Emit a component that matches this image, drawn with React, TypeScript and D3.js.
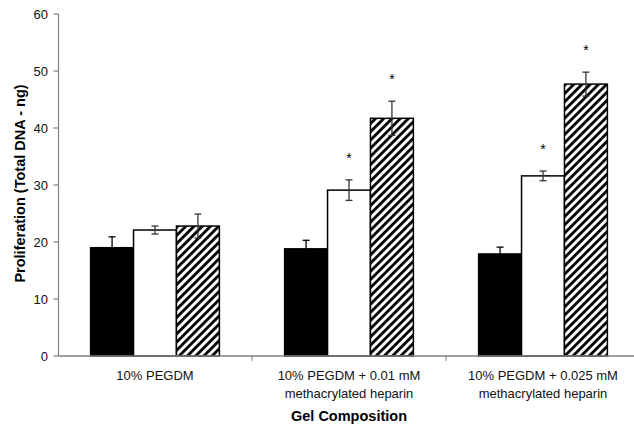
import React from "react";
import * as d3 from "d3";

const categories = [
  ["10% PEGDM"],
  ["10% PEGDM + 0.01 mM", "methacrylated heparin"],
  ["10% PEGDM + 0.025 mM", "methacrylated heparin"],
];
const seriesNames = ["a", "b", "c"];
const values = [
  [19.0, 22.1, 22.8],
  [18.8, 29.1, 41.7],
  [17.9, 31.6, 47.7],
];
const errors = [
  [1.9, 0.7, 2.1],
  [1.5, 1.8, 3.0],
  [1.2, 0.85, 2.1],
];
const significant = [
  [false, false, false],
  [false, true, true],
  [false, true, true],
];
const yTicks = [0, 10, 20, 30, 40, 50, 60];
const yTitle = "Proliferation (Total DNA - ng)";
const xTitle = "Gel Composition";

const W = 634;
const H = 429;
const FONT = "'Liberation Sans', Arial, sans-serif";

export default function App() {
  const catKeys = categories.map((_, i) => String(i));
  const y = d3.scaleLinear().domain([0, 60]).range([356, 14]);
  const x0 = d3.scaleBand().domain(catKeys).range([58, 640]).paddingInner(0).paddingOuter(0);
  const x1 = d3
    .scaleBand()
    .domain(seriesNames)
    .range([0, x0.bandwidth()])
    .paddingInner(0)
    .paddingOuter(0.76);
  const axisColor = "#808080";
  const left = 58.5;
  const base = y(0);

  const fills = ["#000", "#fff", "url(#hatch)"];
  const errColors = ["#000", "#333", "#333"];

  return (
    <svg
      width={W}
      height={H}
      style={{ position: "absolute", left: 0, top: 0, background: "#fff" }}
      fontFamily={FONT}
    >
      <defs>
        <pattern
          id="hatch"
          patternUnits="userSpaceOnUse"
          width={5.8}
          height={5.8}
          patternTransform="rotate(45)"
        >
          <rect x={0} y={0} width={5.8} height={5.8} fill="#fff" />
          <rect x={0} y={0} width={2.8} height={5.8} fill="#000" />
        </pattern>
      </defs>
      <rect x={0} y={0} width={W} height={H} fill="#fff" />

      {/* bars */}
      {values.map((row, ci) =>
        row.map((v, si) => {
          const bx = (x0(String(ci)) ?? 0) + (x1(seriesNames[si]) ?? 0);
          const bw = x1.bandwidth();
          return (
            <rect
              key={`b${ci}-${si}`}
              x={bx}
              y={y(v)}
              width={bw}
              height={base - y(v)}
              fill={fills[si]}
              stroke="#000"
              strokeWidth={1.5}
            />
          );
        })
      )}

      {/* error bars */}
      {values.map((row, ci) =>
        row.map((v, si) => {
          const cx = (x0(String(ci)) ?? 0) + (x1(seriesNames[si]) ?? 0) + x1.bandwidth() / 2;
          const e = errors[ci][si];
          const t = y(v + e);
          const b = y(v - e);
          return (
            <g key={`e${ci}-${si}`} stroke={errColors[si]} strokeWidth={1.3}>
              <line x1={cx} x2={cx} y1={t} y2={b} />
              <line x1={cx - 3.5} x2={cx + 3.5} y1={t} y2={t} />
              <line x1={cx - 3.5} x2={cx + 3.5} y1={b} y2={b} />
            </g>
          );
        })
      )}

      {/* significance stars */}
      {values.map((row, ci) =>
        row.map((v, si) => {
          if (!significant[ci][si]) return null;
          const cx = (x0(String(ci)) ?? 0) + (x1(seriesNames[si]) ?? 0) + x1.bandwidth() / 2;
          const t = y(v + errors[ci][si]);
          return (
            <text key={`s${ci}-${si}`} x={cx} y={t - 17} textAnchor="middle" fontSize={14} fill="#000">
              *
            </text>
          );
        })
      )}

      {/* y axis */}
      <line x1={left} x2={left} y1={y(60)} y2={base} stroke={axisColor} strokeWidth={1.2} />
      {yTicks.map((t) => (
        <g key={`yt${t}`}>
          <line x1={left - 5} x2={left} y1={y(t)} y2={y(t)} stroke={axisColor} strokeWidth={1.2} />
          <text x={48} y={y(t) + 4.5} textAnchor="end" fontSize={13} fill="#111">
            {t}
          </text>
        </g>
      ))}

      {/* x axis */}
      <line x1={left} x2={640} y1={base} y2={base} stroke={axisColor} strokeWidth={1.5} />
      {catKeys.slice(1).map((k) => (
        <line
          key={`xt${k}`}
          x1={x0(k) ?? 0}
          x2={x0(k) ?? 0}
          y1={base}
          y2={base + 5}
          stroke={axisColor}
          strokeWidth={1}
        />
      ))}

      {/* category labels */}
      {categories.map((lines, ci) => {
        const cx = (x0(String(ci)) ?? 0) + x0.bandwidth() / 2;
        return (
          <text key={`c${ci}`} textAnchor="middle" fontSize={13} fill="#111">
            {lines.map((l, li) => (
              <tspan key={li} x={cx} y={380 + li * 17.5}>
                {l}
              </tspan>
            ))}
          </text>
        );
      })}

      {/* titles */}
      <text x={349} y={421} textAnchor="middle" fontSize={14.5} fontWeight="bold" fill="#000">
        {xTitle}
      </text>
      <text
        transform="translate(25,183.5) rotate(-90)"
        textAnchor="middle"
        fontSize={14.5}
        fontWeight="bold"
        fill="#000"
      >
        {yTitle}
      </text>
    </svg>
  );
}
